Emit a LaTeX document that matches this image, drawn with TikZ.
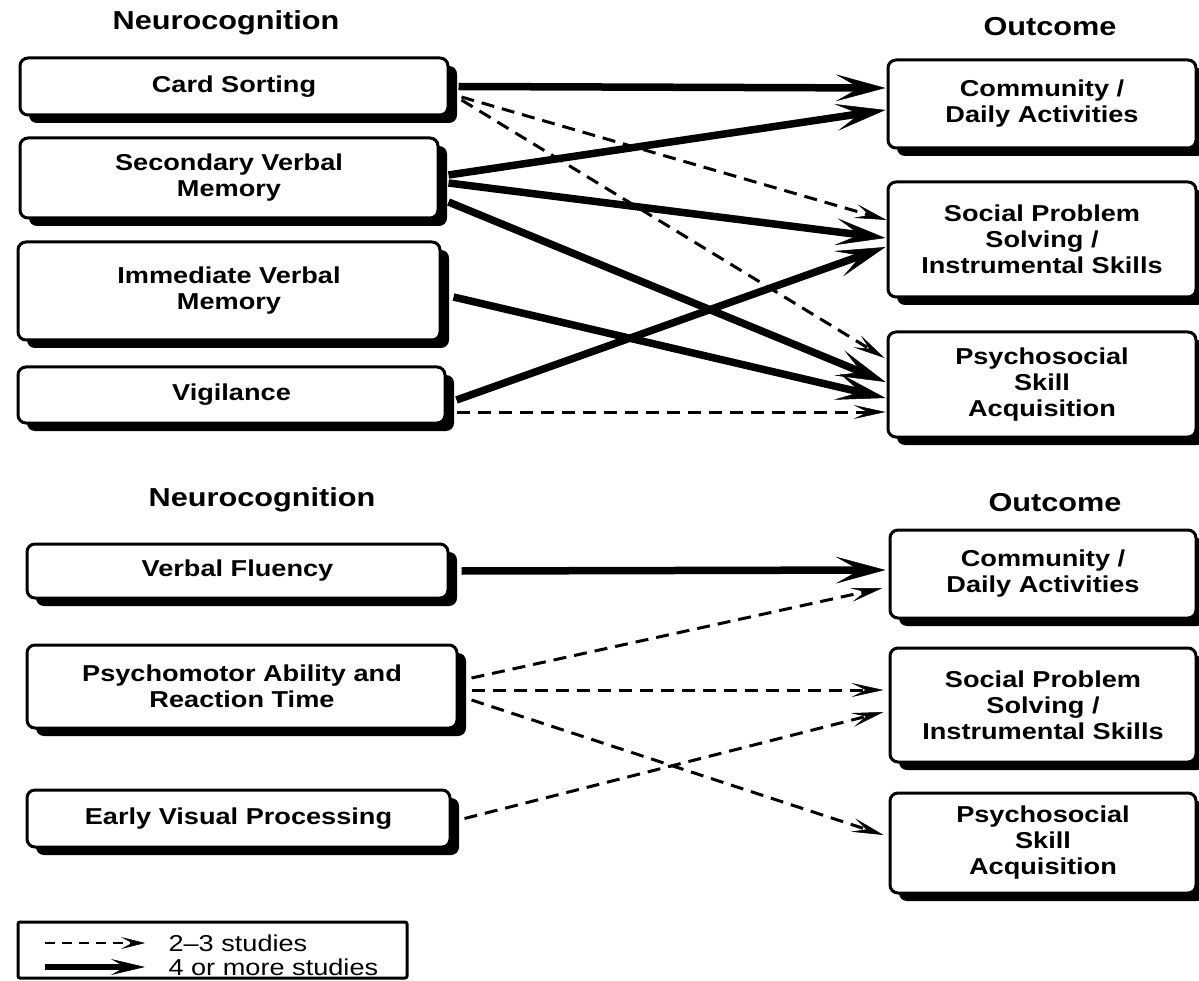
\documentclass[tikz,border=0pt]{standalone}
\usepackage{fontspec}
\setmainfont{Liberation Sans}[FakeStretch=1.18]
\usetikzlibrary{arrows.meta,shadows}

\begin{document}
\begin{tikzpicture}[x=1pt,y=-1pt,
  box/.style={draw=black, line width=3pt, rounded corners=8pt, fill=white,
    drop shadow={fill=black, opacity=1, shadow xshift=9pt, shadow yshift=-8pt},
    align=center, inner sep=2pt, font=\bfseries\fontsize{23}{26}\selectfont},
  head/.style={font=\bfseries\fontsize{26}{30}\selectfont},
  strong/.style={line width=7.5pt, -{Stealth[length=50pt,width=27pt,inset=24pt,line width=0.5pt]}},
  weak/.style={line width=3pt, dash pattern=on 13pt off 8pt,
    -{Stealth[length=32pt,width=14pt,inset=14pt,line width=0.5pt]}},
  legtext/.style={anchor=west, font=\fontsize{23}{26}\selectfont},
]
\useasboundingbox (0,0) rectangle (1199,981);

% ---------- upper panel ----------
\node[head] (h1) at (226,23) {Neurocognition};
\node[head] (h2) at (1050,27) {Outcome};

\node[box, minimum width=428pt, minimum height=57pt] (cs)  at (234,86.5) {Card Sorting};
\node[box, minimum width=418pt, minimum height=80pt] (svm) at (229,178) {Secondary Verbal\\Memory};
\node[box, minimum width=422pt, minimum height=98pt] (ivm) at (229,291) {Immediate Verbal\\Memory};
\node[box, minimum width=427pt, minimum height=56pt] (vig) at (231.5,395) {Vigilance};

\node[box, minimum width=308pt, minimum height=88pt]  (cda) at (1042,104) {Community /\\Daily Activities};
\node[box, minimum width=308pt, minimum height=115pt] (sps) at (1042,239.5) {Social Problem\\Solving /\\Instrumental Skills};
\node[box, minimum width=308pt, minimum height=105pt] (psa) at (1042,384.5) {Psychosocial\\Skill\\Acquisition};

\draw[weak]   ([xshift=12pt,yshift=-10.5pt]cs.east) -- ([yshift=19.5pt]sps.west);
\draw[weak]   ([xshift=12pt,yshift=-13.5pt]cs.east) -- ([xshift=-2pt,yshift=26.5pt]psa.west);
\draw[weak]   ([xshift=10pt,yshift=-17pt]vig.east)  -- ([xshift=-1pt,yshift=-27.5pt]psa.west);
\draw[strong] ([xshift=9pt]cs.east)                 -- ([xshift=-1pt,yshift=16pt]cda.west);
\draw[strong] ([xshift=9pt,yshift=3pt]svm.east)     -- ([xshift=-1pt,yshift=-6pt]cda.west);
\draw[strong] ([xshift=9pt,yshift=-5pt]svm.east)    -- ([xshift=-1pt,yshift=1.5pt]sps.west);
\draw[strong] ([xshift=9pt,yshift=-24pt]svm.east)   -- ([xshift=-1pt,yshift=2.5pt]psa.west);
\draw[strong] ([xshift=12pt,yshift=-6pt]ivm.east)   -- ([xshift=-1pt,yshift=-13.5pt]psa.west);
\draw[strong] ([xshift=10pt,yshift=-5pt]vig.east)   -- ([xshift=-1pt,yshift=-7.5pt]sps.west);

% ---------- lower panel ----------
\node[head] (h3) at (262,500) {Neurocognition};
\node[head] (h4) at (1055,503) {Outcome};

\node[box, minimum width=421pt, minimum height=54pt] (vf) at (237.5,571) {Verbal Fluency};
\node[box, minimum width=430pt, minimum height=83pt] (pm) at (242,686.5) {Psychomotor Ability and\\Reaction Time};
\node[box, minimum width=423pt, minimum height=57pt] (ev) at (238.5,818.5) {Early Visual Processing};

\node[box, minimum width=306pt, minimum height=88pt]  (cdb) at (1043,574) {Community /\\Daily Activities};
\node[box, minimum width=306pt, minimum height=114pt] (spb) at (1043,705) {Social Problem\\Solving /\\Instrumental Skills};
\node[box, minimum width=306pt, minimum height=100pt] (psb) at (1043,843) {Psychosocial\\Skill\\Acquisition};

\draw[strong] ([xshift=12pt]vf.east)               -- ([xshift=-3pt,yshift=4pt]cdb.west);
\draw[weak]   ([xshift=13pt,yshift=8.5pt]pm.east)  -- ([xshift=-6pt,yshift=-14pt]cdb.west);
\draw[weak]   ([xshift=13pt,yshift=-3.5pt]pm.east) -- ([xshift=-5pt,yshift=15pt]spb.west);
\draw[weak]   ([xshift=13pt,yshift=-13.5pt]pm.east)-- ([xshift=-5pt,yshift=8pt]psb.west);
\draw[weak]   ([xshift=13pt]ev.east)               -- ([xshift=-5pt,yshift=-7pt]spb.west);

% ---------- legend ----------
\node[draw=black, line width=3pt, rounded corners=2pt, minimum width=389pt, minimum height=56pt] (leg) at (212.5,950) {};
\coordinate (d1) at (45,943);
\coordinate (d2) at (145,943);
\coordinate (s1) at (45,967);
\coordinate (s2) at (145,967);
\draw[line width=2.6pt, dash pattern=on 10pt off 7pt,
  -{Stealth[length=24pt,width=12pt,inset=11pt,line width=0.5pt]}] (d1) -- (d2);
\draw[line width=6.5pt, -{Stealth[length=34pt,width=16pt,inset=14pt,line width=0.5pt]}] (s1) -- (s2);
\node[legtext] (l1) at (165,943) {2–3 studies};
\node[legtext] (l2) at (165,967) {4 or more studies};
\end{tikzpicture}
\end{document}
